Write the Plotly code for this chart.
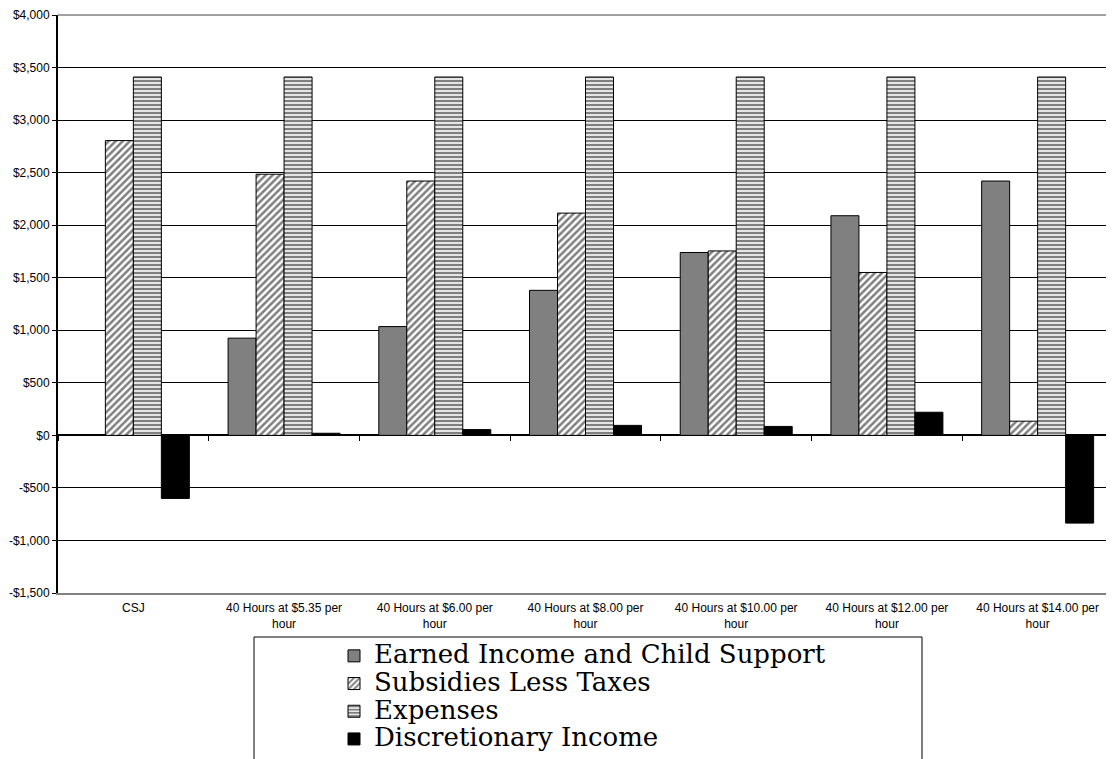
import plotly.graph_objects as go

categories = ["CSJ",
              "40 Hours at $5.35 per<br>hour",
              "40 Hours at $6.00 per<br>hour",
              "40 Hours at $8.00 per<br>hour",
              "40 Hours at $10.00 per<br>hour",
              "40 Hours at $12.00 per<br>hour",
              "40 Hours at $14.00 per<br>hour"]

series_names = ["Earned Income and Child Support", "Subsidies Less Taxes",
                "Expenses", "Discretionary Income"]

earned = [0, 925, 1035, 1380, 1740, 2090, 2420]
subsidies = [2805, 2485, 2420, 2115, 1755, 1550, 135]
expenses = [3410, 3410, 3410, 3410, 3410, 3410, 3410]
discretionary = [-600, 20, 55, 95, 85, 220, -835]

y_tickvals = [-1500, -1000, -500, 0, 500, 1000, 1500, 2000, 2500, 3000, 3500, 4000]
y_ticktext = ["-$1,500", "-$1,000", "-$500", "$0", "$500", "$1,000", "$1,500",
              "$2,000", "$2,500", "$3,000", "$3,500", "$4,000"]

boundaries = [i - 0.5 for i in range(len(categories) + 1)]

# the page body adds an 8px offset; positions below are in window pixels
OFF = 8
PLOT_LEFT, PLOT_TOP, PLOT_RIGHT, PLOT_BOTTOM = 58, 15, 1113, 593
L = PLOT_LEFT - OFF
T = PLOT_TOP - OFF
PLOT_W = PLOT_RIGHT - PLOT_LEFT
PLOT_H = PLOT_BOTTOM - PLOT_TOP
R = 1114 - L - PLOT_W
B = 759 - T - PLOT_H


def px_x(x):
    return (x - PLOT_LEFT) / PLOT_W


def px_y(y):
    return (PLOT_BOTTOM - y) / PLOT_H


def legend_label(name):
    return '<span style="font-size:26px">' + name + '</span>'


fig = go.Figure()
line = dict(color="black", width=1)
fig.add_trace(go.Bar(name=legend_label(series_names[0]), x=categories, y=earned,
                     marker=dict(color="#808080", line=line)))
fig.add_trace(go.Bar(name=legend_label(series_names[1]), x=categories, y=subsidies,
                     marker=dict(color="white", line=line,
                                 pattern=dict(shape="/", size=5, solidity=0.5,
                                              fgcolor="black", bgcolor="white", fillmode="overlay"))))
fig.add_trace(go.Bar(name=legend_label(series_names[2]), x=categories, y=expenses,
                     marker=dict(color="white", line=line,
                                 pattern=dict(shape="-", size=4, solidity=0.6,
                                              fgcolor="black", bgcolor="white", fillmode="overlay"))))
fig.add_trace(go.Bar(name=legend_label(series_names[3]), x=categories, y=discretionary,
                     marker=dict(color="black", line=line)))

# invisible trace on the overlay axis carrying the boundary tick marks on the zero line
fig.add_trace(go.Scatter(x=[boundaries[0], boundaries[-1]], y=[0, 0], xaxis="x2",
                         mode="lines", line=dict(width=0), showlegend=False, hoverinfo="skip"))

fig.update_layout(
    width=1114, height=759,
    margin=dict(l=L, r=R, t=T, b=B, autoexpand=False),
    paper_bgcolor="white", plot_bgcolor="white",
    barmode="group", bargap=0.257, bargroupgap=0,
    font=dict(family="Liberation Sans, Arial, sans-serif", size=12, color="black"),
    xaxis=dict(showgrid=False, showline=True, linecolor="#808080", linewidth=2, mirror=False,
               ticks="", tickfont=dict(size=12), ticklabelstandoff=3, zeroline=False,
               automargin=False),
    xaxis2=dict(overlaying="x", anchor="free", position=1500 / 5500, range=[-0.5, 6.5],
                tickvals=boundaries, ticks="outside", ticklen=5, tickcolor="black",
                showticklabels=False, showline=False, showgrid=False, zeroline=False),
    yaxis=dict(range=[-1500, 4000], tickvals=y_tickvals, ticktext=y_ticktext,
               showgrid=True, gridcolor="black", gridwidth=1.2,
               zeroline=True, zerolinecolor="black", zerolinewidth=1.5,
               showline=True, linecolor="black", linewidth=2,
               ticks="outside", ticklen=4, tickcolor="black", tickfont=dict(size=12),
               automargin=False),
    legend=dict(x=px_x(334), y=px_y(637), xanchor="left", yanchor="top",
                font=dict(family="DejaVu Serif, serif", size=19, color="black"),
                borderwidth=0, bgcolor="rgba(0,0,0,0)", tracegroupgap=0),
    shapes=[dict(type="rect", xref="paper", yref="paper",
                 x0=px_x(254), x1=px_x(922), y0=px_y(637), y1=px_y(790),
                 line=dict(color="black", width=1), fillcolor="rgba(0,0,0,0)"),
            dict(type="line", xref="paper", yref="paper", x0=0, x1=1, y0=1, y1=1,
                 line=dict(color="#808080", width=1.5))],
    showlegend=True,
)

fig.write_html("out.html")
